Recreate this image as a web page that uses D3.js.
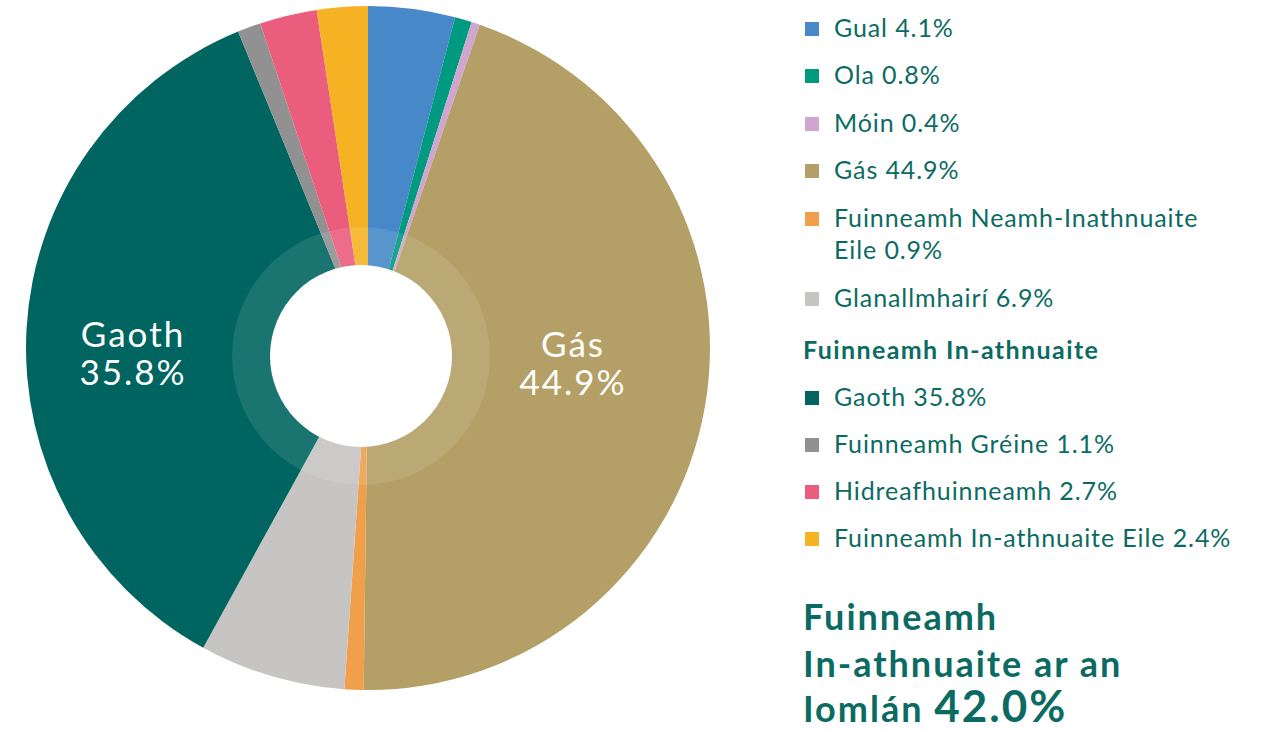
<!doctype html>
<html>
<head>
<meta charset="utf-8">
<style>
body{ margin:0; background:#ffffff; }
.leg{ font-family: Lato, "Open Sans", sans-serif; font-size:25px; letter-spacing:0.9px; fill:#0b6b63; }
.hdr{ font-family: Lato, sans-serif; font-size:25px; font-weight:bold; letter-spacing:1.4px; fill:#0b6b63; }
.ttl{ font-family: Lato, sans-serif; font-size:36px; font-weight:bold; letter-spacing:2px; fill:#0b6b63; }
.slice-lbl{ font-family: Lato, sans-serif; font-size:35px; letter-spacing:2px; fill:#ffffff; }
</style>
<script src="https://d3js.org/d3.v7.min.js"></script>
</head>
<body>
<svg width="1262" height="731"></svg>
<script>
// data
var names  = ["Gual","Ola","Móin","Gás","Fuinneamh Neamh-Inathnuaite Eile","Glanallmhairí",
              "Gaoth","Fuinneamh Gréine","Hidreafhuinneamh","Fuinneamh In-athnuaite Eile"];
var values = [4.1, 0.8, 0.4, 44.9, 0.9, 6.9, 35.8, 1.1, 2.7, 2.4];
var colors = ["#4789c8","#009a80","#d0a6d0","#b4a066","#f0a04b","#c6c5c3",
              "#006560","#919191","#ea5d7c","#f5b324"];
// legend text (some split on 2 lines)
var legendLines = [["Gual 4.1%"],["Ola 0.8%"],["Móin 0.4%"],["Gás 44.9%"],
                   ["Fuinneamh Neamh-Inathnuaite","Eile 0.9%"],["Glanallmhairí 6.9%"],
                   ["Gaoth 35.8%"],["Fuinneamh Gréine 1.1%"],["Hidreafhuinneamh 2.7%"],
                   ["Fuinneamh In-athnuaite Eile 2.4%"]];
var legendY = [37, 84, 132, 179, 227, 307, 406, 453, 500, 547];
var renewHeader = "Fuinneamh In-athnuaite";
var totalLabel = ["Fuinneamh","In-athnuaite ar an","Iomlán "];
var totalValue = "42.0%";
var bigLabels = [6, 3]; // slices with a label inside

var svg = d3.select("svg");
var cx = 368, cy = 348, R = 342;

var pie = d3.pie().value(function(d){ return d; }).sort(null);
var arcs = pie(values);
var arc = d3.arc().innerRadius(0).outerRadius(R);

var g = svg.append("g").attr("transform","translate("+cx+","+cy+")");
g.selectAll("path.slice")
  .data(arcs)
  .enter().append("path")
  .attr("class","slice")
  .attr("d", arc)
  .attr("fill", function(d,i){ return colors[i]; });

// light ring + white hole (sits a bit off the slice centre)
var hole = svg.append("g").attr("transform","translate(361,356)");
hole.append("circle").attr("r",129).attr("fill","#ffffff").attr("fill-opacity",0.1);
hole.append("circle").attr("r",91).attr("fill","#ffffff");

// labels inside the two big slices
var lblPos = { 6: [133, 347], 3: [573, 357] };
bigLabels.forEach(function(i){
  var p = lblPos[i];
  var t = svg.append("text").attr("class","slice-lbl")
    .attr("text-anchor","middle")
    .attr("x", p[0]).attr("y", p[1]);
  t.append("tspan").attr("x", p[0]).text(names[i]);
  t.append("tspan").attr("x", p[0]).attr("dy", 38).text(values[i].toFixed(1) + "%");
});

// legend
var leg = svg.append("g");
legendLines.forEach(function(lines, i){
  leg.append("rect").attr("x",805).attr("y",legendY[i]-15).attr("width",14).attr("height",14)
    .attr("fill", colors[i]);
  lines.forEach(function(s, k){
    leg.append("text").attr("class","leg").attr("x",834).attr("y",legendY[i] + k*32).text(s);
  });
});
leg.append("text").attr("class","hdr").attr("x",803).attr("y",359).text(renewHeader);

// total
var ty = [630, 677, 722];
totalLabel.forEach(function(s,k){
  var t = svg.append("text").attr("class","ttl").attr("x",803).attr("y",ty[k]).text(s);
  if(k == 2) t.append("tspan").style("font-size","44px").text(totalValue);
});
</script>
</body>
</html>
